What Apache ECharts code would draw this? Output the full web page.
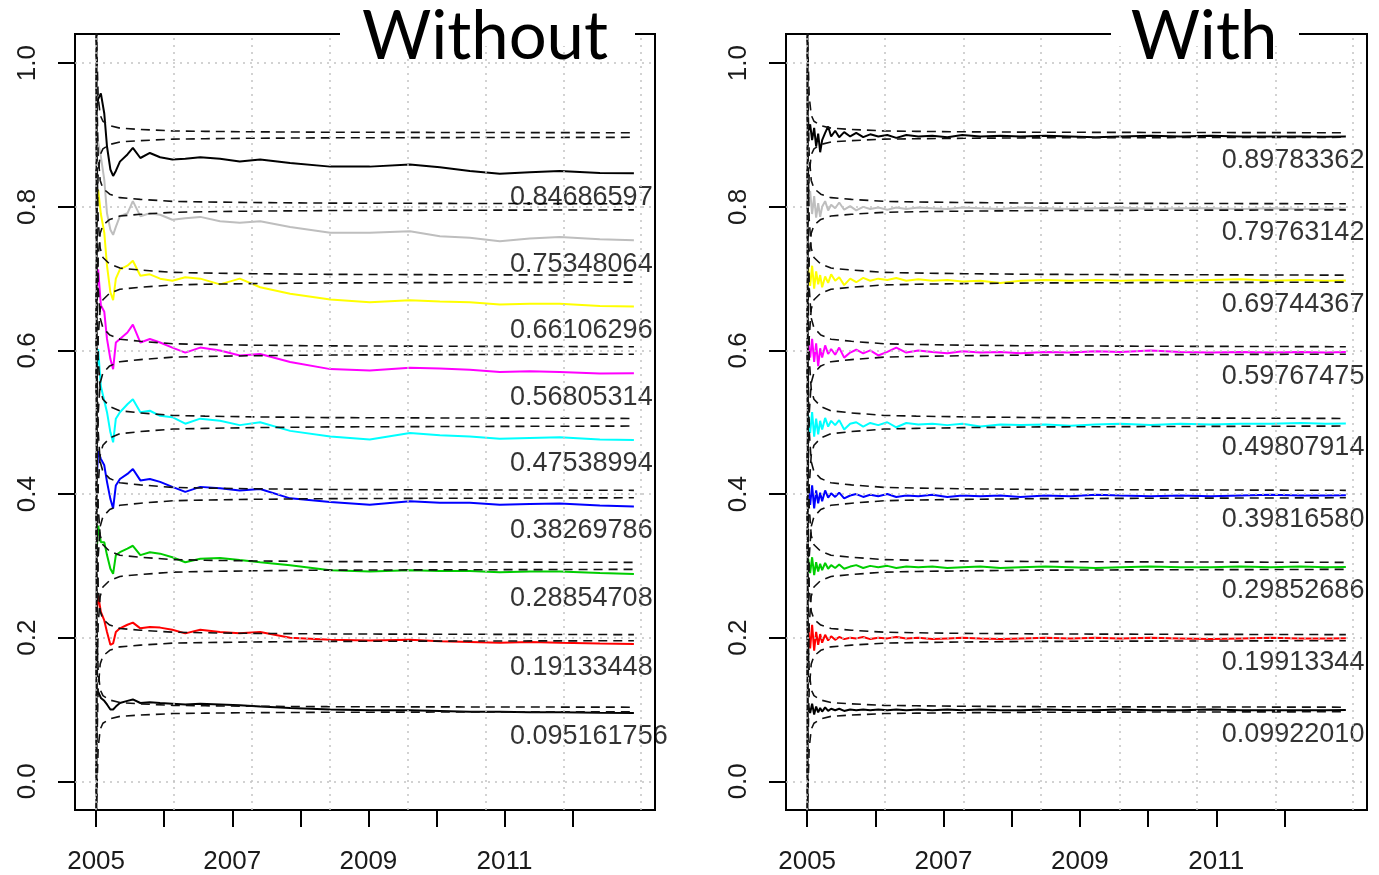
<!DOCTYPE html>
<html>
<head>
<meta charset="utf-8">
<style>
  html, body { margin: 0; padding: 0; background: #fff; }
  #chart { width: 1379px; height: 875px; }
</style>
<script src="https://cdn.jsdelivr.net/npm/echarts@6/dist/echarts.min.js"></script>
</head>
<body>
<div id="chart"></div>
<script>
// target levels, top to bottom, and R colours
const levels = [0.9, 0.8, 0.7, 0.6, 0.5, 0.4, 0.3, 0.2, 0.1];
const colors = ['#000000', '#bebebe', '#ffff00', '#ff00ff', '#00ffff', '#0000ff', '#00cd00', '#ff0000', '#000000'];

// axis ticks / grid
const yearTicks = [2005, 2006, 2007, 2008, 2009, 2010, 2011, 2012];
const yearLabels = [2005, 2007, 2009, 2011];
const yTicks = [0, 0.2, 0.4, 0.6, 0.8, 1.0];
const gridYears = [2005, 2006.145, 2007.29, 2008.435, 2009.58, 2010.725, 2011.87, 2013.0];

// "Without" panel
const leftDates = [2005.015, 2005.03, 2005.07, 2005.12, 2005.16, 2005.21, 2005.25, 2005.29, 2005.35, 2005.46,
  2005.54, 2005.65, 2005.79, 2005.94, 2006.12, 2006.31, 2006.53, 2006.82, 2007.11, 2007.41,
  2007.85, 2008.44, 2009.02, 2009.61, 2010.05, 2010.49, 2010.93, 2011.37, 2011.81, 2012.40, 2012.90];
const left90 = [0.94, 0.95, 0.958, 0.930, 0.884, 0.852, 0.843, 0.850, 0.863, 0.873, 0.882, 0.868, 0.875, 0.869, 0.866, 0.867, 0.869, 0.867, 0.863, 0.866, 0.861, 0.856, 0.856, 0.859, 0.855, 0.850, 0.846, 0.848, 0.850, 0.847, 0.8469];
const left80 = [0.90, 0.89, 0.87, 0.838, 0.791, 0.768, 0.761, 0.772, 0.787, 0.791, 0.808, 0.787, 0.791, 0.789, 0.782, 0.784, 0.786, 0.780, 0.778, 0.780, 0.772, 0.764, 0.764, 0.766, 0.759, 0.757, 0.752, 0.756, 0.758, 0.755, 0.7535];
const left70 = [0.80, 0.824, 0.79, 0.764, 0.718, 0.681, 0.670, 0.700, 0.713, 0.718, 0.725, 0.704, 0.706, 0.700, 0.697, 0.702, 0.700, 0.692, 0.700, 0.688, 0.679, 0.671, 0.667, 0.670, 0.668, 0.667, 0.664, 0.665, 0.665, 0.662, 0.6611];
const left60 = [0.69, 0.713, 0.663, 0.654, 0.616, 0.588, 0.574, 0.611, 0.616, 0.625, 0.636, 0.611, 0.616, 0.611, 0.604, 0.597, 0.604, 0.600, 0.593, 0.595, 0.584, 0.574, 0.572, 0.576, 0.575, 0.573, 0.570, 0.571, 0.570, 0.568, 0.5681];
const left50 = [0.58, 0.602, 0.55, 0.53, 0.514, 0.486, 0.472, 0.505, 0.514, 0.525, 0.532, 0.514, 0.516, 0.509, 0.507, 0.498, 0.505, 0.502, 0.496, 0.500, 0.488, 0.480, 0.476, 0.485, 0.482, 0.480, 0.477, 0.478, 0.479, 0.476, 0.4754];
const left40 = [0.43, 0.46, 0.449, 0.440, 0.417, 0.393, 0.380, 0.412, 0.421, 0.428, 0.435, 0.419, 0.421, 0.417, 0.410, 0.403, 0.410, 0.408, 0.405, 0.407, 0.394, 0.389, 0.385, 0.390, 0.388, 0.388, 0.385, 0.386, 0.387, 0.384, 0.3827];
const left30 = [0.33, 0.356, 0.333, 0.333, 0.315, 0.296, 0.289, 0.315, 0.319, 0.324, 0.328, 0.315, 0.319, 0.317, 0.312, 0.305, 0.310, 0.311, 0.308, 0.305, 0.301, 0.294, 0.292, 0.294, 0.293, 0.293, 0.291, 0.292, 0.292, 0.290, 0.2885];
const left20 = [0.24, 0.259, 0.236, 0.224, 0.208, 0.190, 0.192, 0.208, 0.213, 0.218, 0.221, 0.213, 0.215, 0.214, 0.211, 0.206, 0.211, 0.208, 0.206, 0.208, 0.200, 0.197, 0.196, 0.197, 0.195, 0.194, 0.193, 0.194, 0.193, 0.192, 0.1913];
const left10 = [0.12, 0.125, 0.116, 0.112, 0.107, 0.100, 0.100, 0.104, 0.109, 0.112, 0.114, 0.109, 0.110, 0.109, 0.108, 0.107, 0.108, 0.107, 0.106, 0.104, 0.102, 0.100, 0.099, 0.099, 0.098, 0.097, 0.097, 0.096, 0.096, 0.0955, 0.0952];
const leftLabels = ['0.84686597', '0.75348064', '0.66106296', '0.56805314', '0.47538994', '0.38269786', '0.28854708', '0.19133448', '0.095161756'];

// "With" panel
const rightDates = [2005.015, 2005.044, 2005.073, 2005.103, 2005.132, 2005.162, 2005.191, 2005.22, 2005.264, 2005.308,
  2005.352, 2005.411, 2005.47, 2005.543, 2005.631, 2005.72, 2005.822, 2005.925, 2006.043, 2006.175,
  2006.307, 2006.454, 2006.63, 2006.836, 2007.056, 2007.276, 2007.54, 2007.834, 2008.128, 2008.495,
  2008.862, 2009.229, 2009.596, 2010.037, 2010.477, 2010.918, 2011.358, 2011.799, 2012.239, 2012.606, 2012.9];
const right90 = [0.905, 0.915, 0.893, 0.910, 0.884, 0.902, 0.876, 0.893, 0.903, 0.912, 0.898, 0.906, 0.897, 0.904, 0.898, 0.903, 0.897, 0.901, 0.898, 0.900, 0.896, 0.900, 0.898, 0.899, 0.897, 0.900, 0.898, 0.899, 0.898, 0.899, 0.898, 0.897, 0.898, 0.899, 0.898, 0.899, 0.898, 0.898, 0.898, 0.8975, 0.8978];
const right80 = [0.81, 0.822, 0.79, 0.815, 0.785, 0.805, 0.786, 0.80, 0.808, 0.795, 0.803, 0.798, 0.806, 0.796, 0.801, 0.795, 0.800, 0.797, 0.799, 0.796, 0.799, 0.797, 0.799, 0.798, 0.797, 0.799, 0.798, 0.797, 0.799, 0.798, 0.797, 0.798, 0.799, 0.797, 0.798, 0.798, 0.797, 0.798, 0.797, 0.7975, 0.7976];
const right70 = [0.715, 0.69, 0.718, 0.686, 0.71, 0.692, 0.705, 0.688, 0.703, 0.694, 0.706, 0.697, 0.702, 0.691, 0.700, 0.695, 0.701, 0.697, 0.700, 0.698, 0.701, 0.697, 0.699, 0.697, 0.698, 0.696, 0.697, 0.694, 0.697, 0.698, 0.697, 0.698, 0.697, 0.698, 0.697, 0.698, 0.699, 0.697, 0.698, 0.697, 0.6974];
const right60 = [0.612, 0.59, 0.616, 0.584, 0.61, 0.578, 0.603, 0.59, 0.607, 0.595, 0.602, 0.594, 0.604, 0.590, 0.597, 0.601, 0.596, 0.600, 0.593, 0.598, 0.604, 0.597, 0.600, 0.598, 0.596, 0.599, 0.597, 0.598, 0.596, 0.598, 0.597, 0.599, 0.598, 0.600, 0.598, 0.597, 0.598, 0.597, 0.598, 0.597, 0.5977];
const right50 = [0.51, 0.485, 0.514, 0.48, 0.505, 0.483, 0.502, 0.49, 0.506, 0.494, 0.502, 0.496, 0.503, 0.49, 0.498, 0.500, 0.494, 0.499, 0.496, 0.500, 0.493, 0.499, 0.497, 0.498, 0.496, 0.498, 0.494, 0.497, 0.496, 0.497, 0.495, 0.497, 0.498, 0.496, 0.498, 0.497, 0.498, 0.498, 0.499, 0.498, 0.4981];
const right40 = [0.41, 0.385, 0.412, 0.38, 0.405, 0.387, 0.402, 0.39, 0.405, 0.395, 0.401, 0.396, 0.402, 0.394, 0.398, 0.400, 0.396, 0.399, 0.397, 0.400, 0.396, 0.398, 0.397, 0.399, 0.396, 0.398, 0.397, 0.398, 0.396, 0.398, 0.397, 0.399, 0.398, 0.397, 0.398, 0.397, 0.398, 0.399, 0.398, 0.398, 0.3982];
const right30 = [0.31, 0.29, 0.312, 0.287, 0.305, 0.292, 0.303, 0.294, 0.304, 0.296, 0.301, 0.297, 0.302, 0.296, 0.299, 0.301, 0.297, 0.300, 0.298, 0.300, 0.297, 0.299, 0.298, 0.299, 0.297, 0.298, 0.299, 0.297, 0.298, 0.299, 0.298, 0.297, 0.298, 0.299, 0.298, 0.298, 0.299, 0.298, 0.299, 0.298, 0.2985];
const right20 = [0.215, 0.185, 0.218, 0.182, 0.208, 0.19, 0.205, 0.193, 0.204, 0.196, 0.202, 0.197, 0.201, 0.198, 0.200, 0.199, 0.201, 0.198, 0.200, 0.199, 0.201, 0.199, 0.200, 0.198, 0.199, 0.200, 0.199, 0.198, 0.199, 0.200, 0.199, 0.200, 0.199, 0.200, 0.199, 0.198, 0.199, 0.200, 0.199, 0.199, 0.1991];
const right10 = [0.105, 0.095, 0.108, 0.093, 0.104, 0.096, 0.102, 0.097, 0.103, 0.098, 0.101, 0.099, 0.101, 0.098, 0.100, 0.099, 0.100, 0.099, 0.100, 0.099, 0.100, 0.099, 0.100, 0.099, 0.100, 0.099, 0.100, 0.099, 0.099, 0.100, 0.099, 0.099, 0.100, 0.099, 0.099, 0.100, 0.099, 0.099, 0.099, 0.099, 0.0992];
const rightLabels = ['0.89783362', '0.79763142', '0.69744367', '0.59767475', '0.49807914', '0.39816580', '0.29852686', '0.19913344', '0.09922010'];

// dashed bands: half width at level 0.5, and per-level ratio
const bandDates = [2005.0, 2005.01, 2005.03, 2005.06, 2005.1, 2005.2, 2005.35, 2005.65, 2006.13, 2006.6, 2007.3, 2008.4, 2010.0, 2012.9];
const bandHalf50 = [0.6, 0.2, 0.09, 0.046, 0.032, 0.022, 0.016, 0.013, 0.0095, 0.0085, 0.0075, 0.0065, 0.006, 0.0053];
const bandScale = [0.6, 0.8, 0.92, 0.98, 1, 0.98, 0.92, 0.8, 0.6];

const leftSeries = [left90, left80, left70, left60, left50, left40, left30, left20, left10];
const rightSeries = [right90, right80, right70, right60, right50, right40, right30, right20, right10];

const RFONT = 'Liberation Sans';
const labelYear = 2011.08;

function panelAxes(gi) {
  return {
    x: {
      type: 'value', gridIndex: gi, position: 'bottom', min: 2004.69, max: 2013.21,
      splitLine: { show: false },
      // axis line has to be on, otherwise the ticks end up inside the box
      axisLine: { show: true, onZero: false, lineStyle: { color: '#000', width: 2 } },
      axisTick: { show: true, customValues: yearTicks, length: 17, lineStyle: { color: '#000', width: 2 } },
      axisLabel: { customValues: yearLabels, formatter: v => String(v), fontSize: 26, fontFamily: RFONT, color: '#1a1a1a', margin: 39 }
    },
    y: {
      type: 'value', gridIndex: gi, min: -0.04, max: 1.0407,
      splitLine: { show: false },
      axisLine: { show: true, onZero: false, lineStyle: { color: '#000', width: 2 } },
      axisTick: { show: true, customValues: yTicks, length: 17, lineStyle: { color: '#000', width: 2 } },
      axisLabel: { customValues: yTicks, rotate: 90, formatter: v => v.toFixed(1), fontSize: 26, fontFamily: RFONT, color: '#1a1a1a', margin: 34 }
    }
  };
}

function panelSeries(gi, dates, data, labels) {
  const out = [];
  // dotted grid
  out.push({
    type: 'line', xAxisIndex: gi, yAxisIndex: gi, data: [], z: 1, silent: true,
    markLine: {
      silent: true, symbol: 'none', label: { show: false },
      lineStyle: { color: '#c4c4c4', type: [2, 5], width: 1.5 },
      data: gridYears.map(v => ({ xAxis: v })).concat(yTicks.map(v => ({ yAxis: v })))
    }
  });
  levels.forEach((lv, i) => {
    out.push({
      type: 'line', xAxisIndex: gi, yAxisIndex: gi, z: 2,
      showSymbol: false, silent: true,
      lineStyle: { color: colors[i], width: 2 },
      data: dates.map((d, k) => [d, data[i][k]])
    });
    [1, -1].forEach(sign => {
      out.push({
        type: 'line', xAxisIndex: gi, yAxisIndex: gi, z: 3,
        showSymbol: false, silent: true,
        lineStyle: { color: '#111', width: 1.6, type: [9, 6] },
        data: bandDates.map((d, k) => [d, lv + sign * bandHalf50[k] * bandScale[i]])
      });
    });
  });
  out.push({
    type: 'scatter', xAxisIndex: gi, yAxisIndex: gi, z: 4, silent: true,
    symbolSize: 1, itemStyle: { color: 'rgba(0,0,0,0)' },
    label: {
      show: true, position: 'inside', align: 'left', verticalAlign: 'middle', offset: [0, 24],
      formatter: p => p.name, fontSize: 27, fontFamily: RFONT, color: '#000',
      textBorderWidth: 0, textBorderColor: 'transparent'
    },
    data: levels.map((lv, i) => ({ name: labels[i], value: [labelYear, data[i][data[i].length - 1]] }))
  });
  return out;
}

const a0 = panelAxes(0), a1 = panelAxes(1);
const chart = echarts.init(document.getElementById('chart'));
chart.setOption({
  animation: false,
  backgroundColor: '#fff',
  grid: [
    { left: 75, top: 34, width: 580, height: 778, show: true, borderColor: '#000', borderWidth: 2, backgroundColor: 'transparent' },
    { left: 786, top: 34, width: 581, height: 778, show: true, borderColor: '#000', borderWidth: 2, backgroundColor: 'transparent' }
  ],
  xAxis: [a0.x, a1.x],
  yAxis: [a0.y, a1.y],
  series: panelSeries(0, leftDates, leftSeries, leftLabels).concat(panelSeries(1, rightDates, rightSeries, rightLabels)),
  graphic: [
    { type: 'rect', z: 100, shape: { x: 340, y: 22, width: 295, height: 24 }, style: { fill: '#fff' } },
    { type: 'text', z: 101, x: 485, y: 37, style: { text: 'Without', font: '67px Lato', fill: '#000', textAlign: 'center', textVerticalAlign: 'middle', align: 'center', verticalAlign: 'middle' } },
    { type: 'rect', z: 100, shape: { x: 1111, y: 22, width: 188, height: 24 }, style: { fill: '#fff' } },
    { type: 'text', z: 101, x: 1204, y: 37, style: { text: 'With', font: '67px Lato', fill: '#000', textAlign: 'center', textVerticalAlign: 'middle', align: 'center', verticalAlign: 'middle' } }
  ]
});
window.addEventListener('resize', () => chart.resize());
</script>
</body>
</html>
